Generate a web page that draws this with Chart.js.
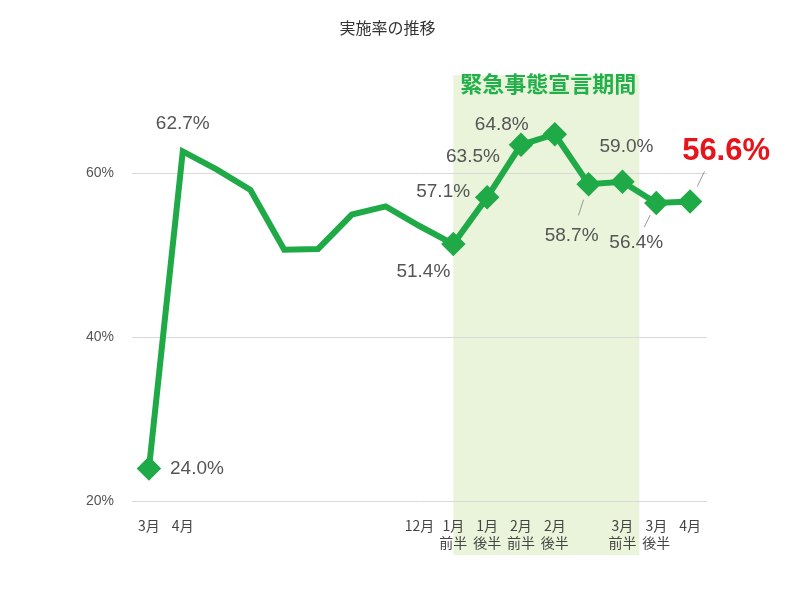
<!DOCTYPE html>
<html>
<head>
<meta charset="utf-8">
<script src="https://cdn.jsdelivr.net/npm/chart.js@4"></script>
<style>
  body { margin: 0; background: #fff; }
  #wrap { width: 800px; height: 594px; }
</style>
</head>
<body>
<div id="wrap"><canvas id="mainChart"></canvas></div>
<script>
// chart data
const categories = ['3月', '4月', '', '', '', '', '', '', '12月',
  ['1月', '前半'], ['1月', '後半'], ['2月', '前半'], ['2月', '後半'],
  '', ['3月', '前半'], ['3月', '後半'], '4月'];
const rates = [24.0, 62.7, 60.5, 58.0, 50.7, 50.8, 55.0, 56.0, 53.6,
  51.4, 57.1, 63.5, 64.8, 58.7, 59.0, 56.4, 56.6];
const yTicks = [20, 40, 60];
const shownLabels = { 0: '24.0%', 1: '62.7%', 9: '51.4%', 10: '57.1%', 11: '63.5%',
  12: '64.8%', 13: '58.7%', 14: '59.0%', 15: '56.4%', 16: '56.6%' };
const markerIdx = [0, 9, 10, 11, 12, 13, 14, 15, 16];
const periodFrom = 9, periodTo = 14.5;
const periodTitle = '緊急事態宣言期間';

// label placement relative to point (style only)
const labelOffsets = {
  0: [48, 0], 1: [0, -28], 9: [-30, 28], 10: [-44, -6], 11: [-48, 12],
  12: [-53, -9], 13: [-17, 52], 14: [4, -35], 15: [-20, 40], 16: [24, -50]
};
const leaders = { 13: true, 15: true, 16: true };

const green = '#1faa47';

const shadePlugin = {
  id: 'shade',
  beforeDraw(chart) {
    const { ctx, chartArea, scales } = chart;
    const x0 = scales.x.getPixelForValue(periodFrom);
    const x1 = scales.x.getPixelForValue(periodTo);
    ctx.save();
    ctx.fillStyle = '#e9f4da';
    ctx.fillRect(x0, chartArea.top, x1 - x0, 555 - chartArea.top);
    ctx.fillStyle = '#22b04b';
    ctx.font = 'bold 22px "Noto Sans CJK JP"';
    ctx.textAlign = 'center';
    ctx.textBaseline = 'middle';
    ctx.fillText(periodTitle, (x0 + x1) / 2 + 2, chartArea.top + 8);
    ctx.restore();
  }
};

const labelPlugin = {
  id: 'valueLabels',
  afterDatasetsDraw(chart) {
    const { ctx } = chart;
    const meta = chart.getDatasetMeta(0);
    ctx.save();
    ctx.textAlign = 'center';
    ctx.textBaseline = 'middle';
    Object.keys(shownLabels).forEach(k => {
      const i = +k;
      const pt = meta.data[i];
      const [dx, dy] = labelOffsets[i];
      const tx = pt.x + dx, ty = pt.y + dy;
      if (leaders[i]) {
        ctx.strokeStyle = '#999';
        ctx.lineWidth = 1;
        ctx.beginPath();
        ctx.moveTo(pt.x + dx * 0.3, pt.y + dy * 0.3);
        ctx.lineTo(pt.x + dx * 0.6, pt.y + dy * 0.6);
        ctx.stroke();
      }
      if (i === 16) {
        ctx.fillStyle = '#e8141c';
        ctx.font = 'bold 31px "Liberation Sans"';
        ctx.fillText(shownLabels[k], tx + 12, ty);
      } else {
        ctx.fillStyle = '#555';
        ctx.font = '19px "Liberation Sans"';
        ctx.fillText(shownLabels[k], tx, ty);
      }
    });
    ctx.restore();
  }
};

new Chart(document.getElementById('mainChart'), {
  type: 'line',
  data: {
    labels: categories,
    datasets: [{
      data: rates,
      borderColor: green,
      borderWidth: 6,
      tension: 0,
      pointStyle: 'rectRot',
      pointRadius: ctx => markerIdx.includes(ctx.dataIndex) ? 8 : 0,
      pointBackgroundColor: green,
      pointBorderColor: green
    }]
  },
  options: {
    responsive: true,
    maintainAspectRatio: false,
    animation: false,
    layout: { padding: { left: 68, right: 93, top: 0, bottom: 35 } },
    plugins: {
      legend: { display: false },
      tooltip: { enabled: false },
      title: {
        display: true,
        text: '実施率の推移',
        color: '#333',
        font: { family: '"Noto Sans CJK JP"', size: 16, weight: 'normal' },
        padding: { top: 18, bottom: 38 }
      }
    },
    scales: {
      x: {
        offset: true,
        grid: { display: false },
        border: { display: false },
        ticks: {
          color: '#444', autoSkip: false, maxRotation: 0,
          font: { family: '"Noto Sans CJK JP"', size: 14 }, padding: 8
        }
      },
      y: {
        min: 20, max: 72,
        afterBuildTicks: s => { s.ticks = yTicks.map(v => ({ value: v })); },
        grid: { color: '#d9d9d9', drawTicks: false },
        border: { display: false },
        ticks: {
          color: '#555', padding: 18,
          font: { family: '"Liberation Sans"', size: 14 },
          callback: v => v + '%'
        }
      }
    }
  },
  plugins: [shadePlugin, labelPlugin]
});
</script>
</body>
</html>
